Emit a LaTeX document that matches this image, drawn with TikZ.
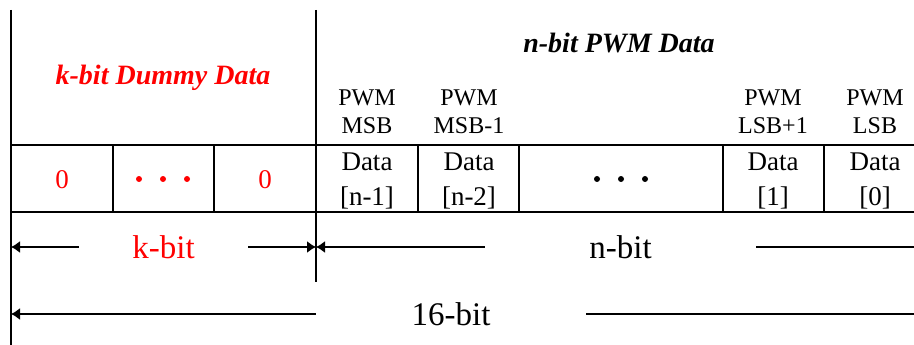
\documentclass[tikz,border=0pt]{standalone}
\usepackage{fontspec}
\setmainfont{Liberation Serif}
\usetikzlibrary{arrows.meta,positioning,calc}
\tikzset{
  head/.style={font=\bfseries\itshape\fontsize{28}{34}\selectfont},
  lab/.style={font=\fontsize{24}{28}\selectfont, align=center, inner sep=0pt},
  cell/.style={font=\fontsize{27}{35}\selectfont, align=center, inner sep=0pt},
  span/.style={font=\fontsize{33}{36}\selectfont, inner sep=0pt},
  dim/.style={line width=1.4pt, -{Latex[length=9pt,width=12pt]}}
}
\begin{document}
\begin{tikzpicture}[x=1pt,y=-1pt]
\useasboundingbox (0,0) rectangle (914,345);
\clip (0,0) rectangle (914,345);
\draw[line width=1.8pt] (11,10) -- (11,345); % left border
\draw[line width=1.8pt] (316,10) -- (316,282); % split k / n
\draw[line width=1.5pt] (11,145) -- (914,145);
\draw[line width=1.5pt] (11,212) -- (914,212);
\foreach \x in {113,214,418,519,723,824} % edit here for the cell walls
\draw[line width=1.2pt] (\x,145) -- (\x,212);
% headers
\node[head, red] (dummy) at (163,78) {k-bit Dummy Data};
\node[head] (pwmdata) at (619,43) {n-bit PWM Data};
\node[lab] (msb) at (367,112) {PWM\\MSB};
\node[lab] (msbm) at (469,112) {PWM\\MSB-1};
\node[lab] (lsbp) at (773,112) {PWM\\LSB+1};
\node[lab] (lsb) at (875,112) {PWM\\LSB};
% cells
\node[cell, red] (zeroa) at (62,180) {0};
\node[cell, red] (zerob) at (265,180) {0};
\node[cell] (dn1) at (367,181) {Data\\{[n-1]}};
\node[cell] (dn2) at (469,181) {Data\\{[n-2]}};
\node[cell] (d1) at (773,181) {Data\\{[1]}};
\node[cell] (d0) at (875,181) {Data\\{[0]}};
\foreach \x in {139,163,187}
\fill[red] (\x,179) circle (3);
\foreach \x in {597,621,645}
\fill (\x,179) circle (3);
% widths
\coordinate (kl) at (11,247);
\coordinate (km) at (316,247);
\coordinate (tl) at (11,314);
\node[span, red, minimum width=169pt] (kbit) at (163.5,247) {k-bit};
\node[span, minimum width=271pt] (nbit) at (620.5,247) {n-bit};
\node[span, minimum width=270pt] (sbit) at (451,314) {16-bit};
\draw[dim] (kbit.west) -- (kl);
\draw[dim] (kbit.east) -- (km);
\draw[dim] (nbit.west) -- (km);
\draw[line width=1.4pt] (nbit.east) -- ++(170,0);
\draw[dim] (sbit.west) -- (tl);
\draw[line width=1.4pt] (sbit.east) -- ++(340,0);
\end{tikzpicture}
\end{document}
